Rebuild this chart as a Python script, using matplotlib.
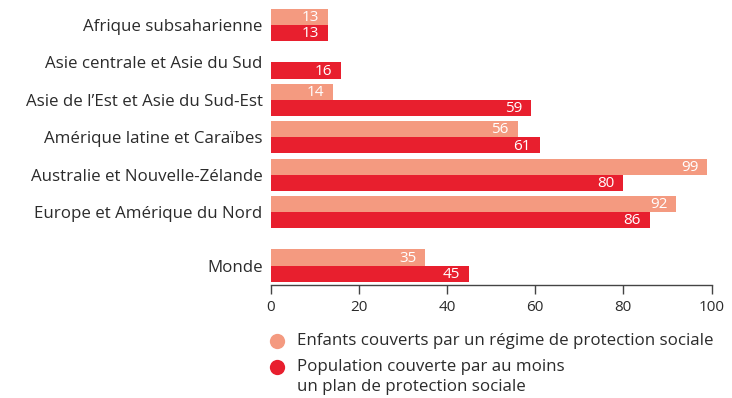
import matplotlib
matplotlib.use("Agg")
import matplotlib.pyplot as plt
from matplotlib.lines import Line2D

regions = [
    "Afrique subsaharienne",
    "Asie centrale et Asie du Sud",
    "Asie de l\u2019Est et Asie du Sud-Est",
    "Am\u00e9rique latine et Cara\u00efbes",
    "Australie et Nouvelle-Z\u00e9lande",
    "Europe et Am\u00e9rique du Nord",
    "Monde",
]
enfants = [13, None, 14, 56, 99, 92, 35]
population = [13, 16, 59, 61, 80, 86, 45]
xticks = [0, 20, 40, 60, 80, 100]

legend_labels = [
    "Enfants couverts par un r\u00e9gime de protection sociale",
    "Population couverte par au moins\nun plan de protection sociale",
]

light = "#F49A80"
dark = "#E81F2E"
text_col = "#2b2b2b"

plt.rcParams["font.family"] = ["Open Sans", "DejaVu Sans"]

W, H = 732, 398
fig = plt.figure(figsize=(W / 100, H / 100), dpi=100)
ax = fig.add_axes([0.370, 0.283, 0.602, 0.704])

centers = [0, 1, 2, 3, 4, 5, 6.43]
h = 0.43

for c, e, p in zip(centers, enfants, population):
    if e is not None:
        ax.barh(c - h / 2, e, height=h, color=light, edgecolor="none")
        ax.text(e - 2.0, c - h / 2 + 0.02, str(e), ha="right", va="center",
                color="white", fontsize=11)
    ax.barh(c + h / 2, p, height=h, color=dark, edgecolor="none")
    ax.text(p - 2.0, c + h / 2 + 0.02, str(p), ha="right", va="center",
            color="white", fontsize=11)

ax.set_ylim(6.96, -0.533)
ax.set_xlim(0, 100)
ax.set_yticks(centers)
ax.set_yticklabels(regions, fontsize=12.2, color=text_col)
ax.tick_params(axis="y", length=0, pad=6)
ax.set_xticks(xticks)
ax.set_xticklabels([str(t) for t in xticks], fontsize=11, color=text_col)
ax.tick_params(axis="x", length=6.5, width=1, color="#444444", direction="out", pad=4)
for s in ["top", "right", "left"]:
    ax.spines[s].set_visible(False)
ax.spines["bottom"].set_color("#444444")
ax.spines["bottom"].set_linewidth(1)

# Legend: marker aligned with the first line of each entry
legend_colors = [light, dark]
marker_x = 277 / W
text_x = 297 / W
line_y = [341, 367]
line_gap = 20
for col, label, y in zip(legend_colors, legend_labels, line_y):
    fig.add_artist(Line2D([marker_x], [1 - y / H], marker="o", linestyle="none",
                          markersize=11, markerfacecolor=col,
                          markeredgecolor="none", transform=fig.transFigure))
    for k, line in enumerate(label.split("\n")):
        fig.text(text_x, 1 - (y + k * line_gap) / H, line, ha="left",
                 va="center", fontsize=12.2, color=text_col)

fig.savefig("out.png", dpi=100)
